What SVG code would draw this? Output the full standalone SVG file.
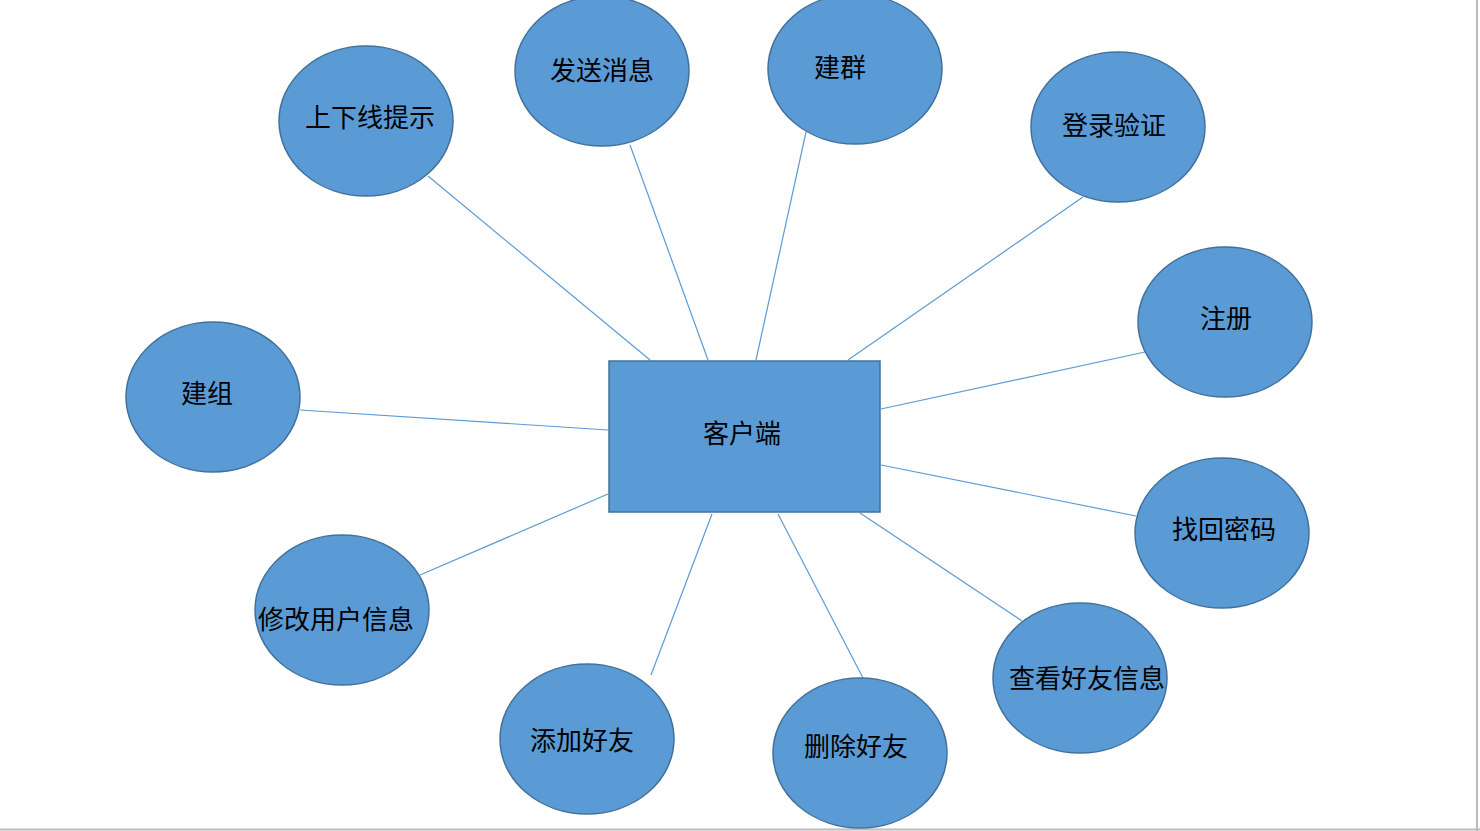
<svg xmlns="http://www.w3.org/2000/svg" width="1480" height="831" viewBox="0 0 1480 831">
<style>
.n{fill:#5B9BD5;stroke:#41719C;stroke-width:1.5}
.t{font-family:"Liberation Sans","Noto Sans CJK SC",sans-serif;font-size:26px;fill:#000;text-anchor:middle;dominant-baseline:central}
.c line{stroke:#5B9BD5;stroke-width:1.2}
</style>
<rect width="1480" height="831" fill="#fff"/>
<line x1="1477" y1="0" x2="1477" y2="831" stroke="#bbb" stroke-width="2"/>
<line x1="0" y1="829.5" x2="1480" y2="829.5" stroke="#bbb" stroke-width="2"/>
<g class="c">
<line x1="428" y1="176" x2="650" y2="360"/>
<line x1="630" y1="145" x2="708" y2="360"/>
<line x1="806" y1="132" x2="756" y2="360"/>
<line x1="1083" y1="197" x2="848" y2="360"/>
<line x1="1145" y1="352" x2="881" y2="409"/>
<line x1="881" y1="465" x2="1136" y2="516"/>
<line x1="860" y1="513" x2="1022" y2="621"/>
<line x1="778" y1="514" x2="863" y2="678"/>
<line x1="712" y1="514" x2="651" y2="675"/>
<line x1="608" y1="494" x2="420" y2="575"/>
<line x1="300" y1="410" x2="608" y2="430"/>
</g>
<g id="client"><rect class="n" x="609" y="361" width="271" height="151"/><text class="t" x="742" y="434">客户端</text></g>
<g id="n1"><ellipse class="n" cx="366" cy="121" rx="87" ry="75"/><text class="t" x="370" y="118">上下线提示</text></g>
<g id="n2"><ellipse class="n" cx="602" cy="71" rx="87" ry="75"/><text class="t" x="602" y="71">发送消息</text></g>
<g id="n3"><ellipse class="n" cx="855" cy="69" rx="87" ry="75"/><text class="t" x="840" y="68">建群</text></g>
<g id="n4"><ellipse class="n" cx="1118" cy="127" rx="87" ry="75"/><text class="t" x="1114" y="126">登录验证</text></g>
<g id="n5"><ellipse class="n" cx="1225" cy="322" rx="87" ry="75"/><text class="t" x="1226" y="319">注册</text></g>
<g id="n6"><ellipse class="n" cx="1222" cy="533" rx="87" ry="75"/><text class="t" x="1224" y="530">找回密码</text></g>
<g id="n7"><ellipse class="n" cx="1080" cy="678" rx="87" ry="75"/><text class="t" x="1087" y="679">查看好友信息</text></g>
<g id="n8"><ellipse class="n" cx="860" cy="753" rx="87" ry="75"/><text class="t" x="856" y="747">删除好友</text></g>
<g id="n9"><ellipse class="n" cx="587" cy="739" rx="87" ry="75"/><text class="t" x="582" y="741">添加好友</text></g>
<g id="n10"><ellipse class="n" cx="342" cy="610" rx="87" ry="75"/><text class="t" x="336" y="620">修改用户信息</text></g>
<g id="n11"><ellipse class="n" cx="213" cy="397" rx="87" ry="75"/><text class="t" x="207" y="394">建组</text></g>
</svg>
